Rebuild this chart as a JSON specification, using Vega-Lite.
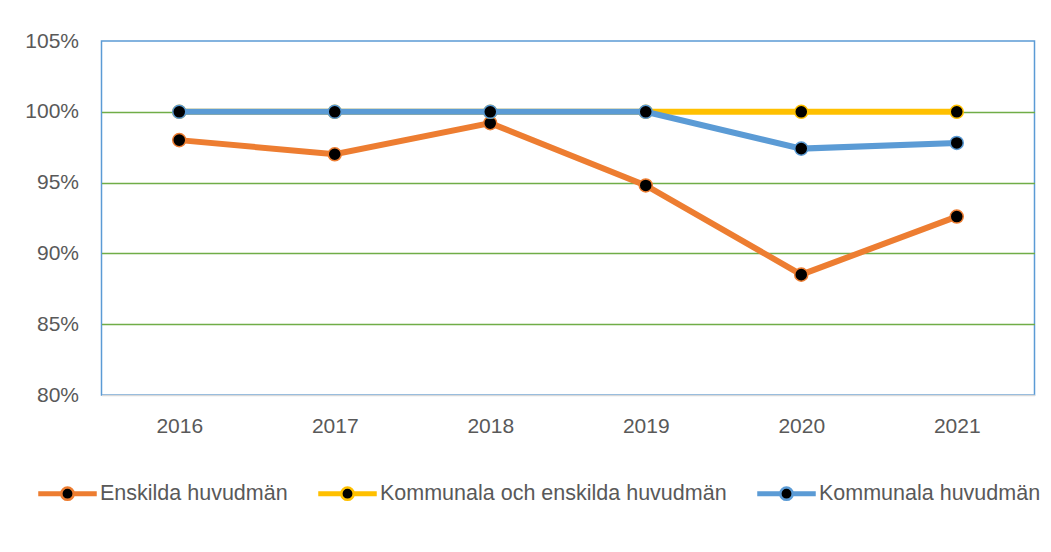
{
  "$schema": "https://vega.github.io/schema/vega-lite/v6.json",
  "width": 933,
  "height": 354,
  "autosize": {"type": "none"},
  "padding": {"left": 101.5, "top": 41, "right": 16.5, "bottom": 157},
  "background": "white",
  "config": {
    "font": "Liberation Sans",
    "view": {"stroke": "#5B9BD5", "strokeWidth": 1.5},
    "axis": {"labelColor": "#595959", "labelFontSize": 21, "labelFont": "Liberation Sans", "ticks": false, "title": null}
  },
  "data": {
    "values": [
      {"year": "2016", "series": "Enskilda huvudmän", "value": 0.980},
      {"year": "2017", "series": "Enskilda huvudmän", "value": 0.970},
      {"year": "2018", "series": "Enskilda huvudmän", "value": 0.992},
      {"year": "2019", "series": "Enskilda huvudmän", "value": 0.948},
      {"year": "2020", "series": "Enskilda huvudmän", "value": 0.885},
      {"year": "2021", "series": "Enskilda huvudmän", "value": 0.926},
      {"year": "2016", "series": "Kommunala och enskilda huvudmän", "value": 1.0},
      {"year": "2017", "series": "Kommunala och enskilda huvudmän", "value": 1.0},
      {"year": "2018", "series": "Kommunala och enskilda huvudmän", "value": 1.0},
      {"year": "2019", "series": "Kommunala och enskilda huvudmän", "value": 1.0},
      {"year": "2020", "series": "Kommunala och enskilda huvudmän", "value": 1.0},
      {"year": "2021", "series": "Kommunala och enskilda huvudmän", "value": 1.0},
      {"year": "2016", "series": "Kommunala huvudmän", "value": 1.0},
      {"year": "2017", "series": "Kommunala huvudmän", "value": 1.0},
      {"year": "2018", "series": "Kommunala huvudmän", "value": 1.0},
      {"year": "2019", "series": "Kommunala huvudmän", "value": 1.0},
      {"year": "2020", "series": "Kommunala huvudmän", "value": 0.974},
      {"year": "2021", "series": "Kommunala huvudmän", "value": 0.978}
    ]
  },
  "encoding": {
    "x": {
      "field": "year", "type": "ordinal",
      "scale": {"type": "point", "padding": 0.5},
      "axis": {"labelAngle": 0, "domainColor": "#D9D9D9", "domainWidth": 1.5, "labelPadding": 20, "grid": false}
    },
    "y": {
      "field": "value", "type": "quantitative",
      "scale": {"domain": [0.8, 1.05], "nice": false, "zero": false},
      "axis": {
        "values": [0.8, 0.85, 0.9, 0.95, 1.0, 1.05],
        "format": ".0%", "domain": false, "labelPadding": 23,
        "grid": true, "gridWidth": 1.5,
        "gridColor": {"condition": {"test": "datum.value < 0.82 || datum.value > 1.04", "value": "transparent"}, "value": "#70AD47"}
      }
    },
    "stroke": {
      "field": "series", "type": "nominal",
      "scale": {
        "domain": ["Enskilda huvudmän", "Kommunala och enskilda huvudmän", "Kommunala huvudmän"],
        "range": ["#ED7D31", "#FFC000", "#5B9BD5"]
      },
      "legend": {
        "title": null, "orient": "none", "direction": "horizontal",
        "legendX": -63.5, "legendY": 423,
        "symbolType": "M-1,-0.045H-0.22V0.045H-1Z M0.22,-0.045H1V0.045H0.22Z M0.22,0A0.22,0.22 0 1,1 -0.22,0A0.22,0.22 0 1,1 0.22,0Z",
        "symbolSize": 3136, "symbolStrokeWidth": 2.5, "symbolFillColor": "black",
        "labelFontSize": 21.5, "labelColor": "#595959", "labelLimit": 0, "labelOffset": 3,
        "columnPadding": 26
      }
    }
  },
  "layer": [
    {"transform": [{"filter": "datum.series === 'Enskilda huvudmän'"}], "mark": {"type": "line", "strokeWidth": 6}},
    {"transform": [{"filter": "datum.series === 'Enskilda huvudmän'"}], "mark": {"type": "point", "filled": true, "fill": "black", "size": 170, "strokeWidth": 1.5, "opacity": 1}},
    {"transform": [{"filter": "datum.series === 'Kommunala och enskilda huvudmän'"}], "mark": {"type": "line", "strokeWidth": 6}},
    {"transform": [{"filter": "datum.series === 'Kommunala och enskilda huvudmän'"}], "mark": {"type": "point", "filled": true, "fill": "black", "size": 170, "strokeWidth": 1.5, "opacity": 1}},
    {"transform": [{"filter": "datum.series === 'Kommunala huvudmän'"}], "mark": {"type": "line", "strokeWidth": 6}},
    {"transform": [{"filter": "datum.series === 'Kommunala huvudmän'"}], "mark": {"type": "point", "filled": true, "fill": "black", "size": 170, "strokeWidth": 1.5, "opacity": 1}}
  ]
}
